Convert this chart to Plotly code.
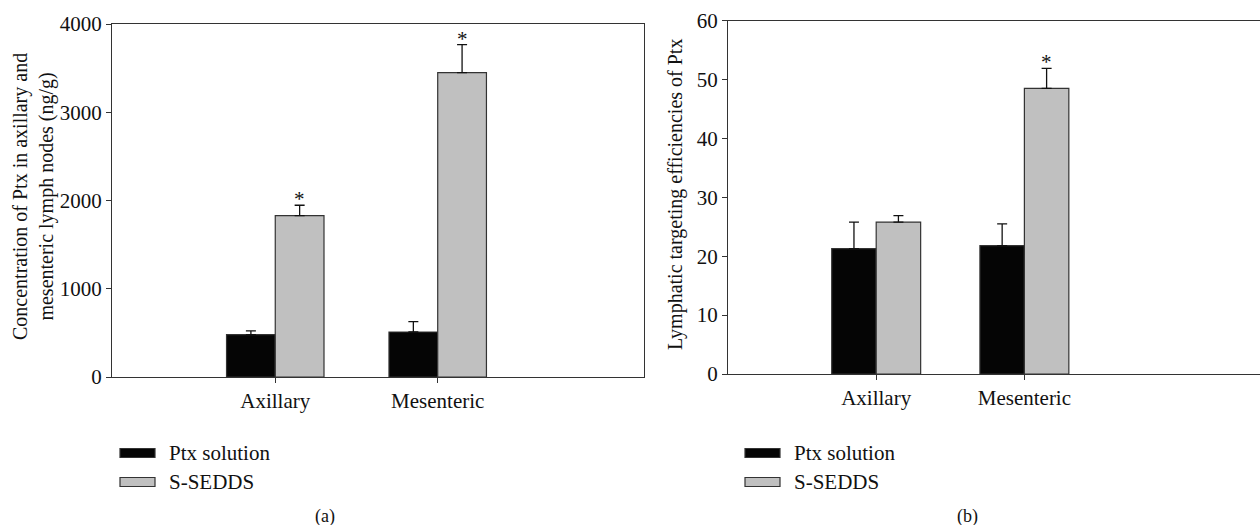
import plotly.graph_objects as go

categories = ["Axillary", "Mesenteric"]
series_names = ["Ptx solution", "S-SEDDS"]

# Panel (a): concentration (ng/g)
conc_ptx = [480, 510]
conc_ptx_err = [42, 117]
conc_sedds = [1828, 3448]
conc_sedds_err = [118, 318]
conc_sedds_star = [True, True]

# Panel (b): lymphatic targeting efficiency
lte_ptx = [21.3, 21.8]
lte_ptx_err = [4.5, 3.7]
lte_sedds = [25.8, 48.5]
lte_sedds_err = [1.1, 3.4]
lte_sedds_star = [False, True]

y_ticks_a = [0, 1000, 2000, 3000, 4000]
y_ticks_b = [0, 10, 20, 30, 40, 50, 60]

BLACK = "#050505"
GRAY = "#c0c0c0"
EDGE = "#333333"
FONT = "Liberation Serif, DejaVu Serif, serif"
FS = 21
FST = 20

fig = go.Figure()

def add_panel(xa, ya, v1, e1, v2, e2):
    for name, vals, errs, col in [(series_names[0], v1, e1, BLACK), (series_names[1], v2, e2, GRAY)]:
        fig.add_trace(go.Bar(
            x=categories, y=vals, name=name, xaxis=xa, yaxis=ya,
            marker=dict(color=col, line=dict(color=EDGE, width=1.2)),
            error_y=dict(type="data", array=errs, arrayminus=[0] * len(errs), symmetric=False,
                         color="#111111", thickness=1.3, width=5),
            showlegend=False, offsetgroup=name, hoverinfo="skip",
        ))

add_panel("x", "y", conc_ptx, conc_ptx_err, conc_sedds, conc_sedds_err)
add_panel("x2", "y2", lte_ptx, lte_ptx_err, lte_sedds, lte_sedds_err)

annotations = []
for i, c in enumerate(categories):
    if conc_sedds_star[i]:
        annotations.append(dict(x=i + 0.15, y=conc_sedds[i] + conc_sedds_err[i], xref="x", yref="y",
                                text="*", showarrow=False, xanchor="center", yanchor="bottom", yshift=-8,
                                font=dict(family=FONT, size=FS, color="#111")))
    if lte_sedds_star[i]:
        annotations.append(dict(x=i + 0.15, y=lte_sedds[i] + lte_sedds_err[i], xref="x2", yref="y2",
                                text="*", showarrow=False, xanchor="center", yanchor="bottom", yshift=-8,
                                font=dict(family=FONT, size=FS, color="#111")))

W, H = 1260, 525
def px(x):
    return x / W
def py(y):
    return 1 - y / H

# y-axis titles
annotations.append(dict(x=px(33), y=py(197), xref="paper", yref="paper", textangle=-90,
                        xanchor="center", yanchor="middle",
                        text="Concentration of Ptx in axillary and<br>mesenteric lymph nodes (ng/g)",
                        showarrow=False, font=dict(family=FONT, size=FST, color="#111")))
annotations.append(dict(x=px(675), y=py(195), xref="paper", yref="paper", textangle=-90,
                        xanchor="center", yanchor="middle",
                        text="Lymphatic targeting efficiencies of Ptx",
                        showarrow=False, font=dict(family=FONT, size=FST, color="#111")))

# custom legends
shapes = []
for lx in (120, 745):
    for j, (name, col) in enumerate([(series_names[0], BLACK), (series_names[1], GRAY)]):
        yc = 453 + j * 29
        shapes.append(dict(type="rect", xref="paper", yref="paper",
                           x0=px(lx), x1=px(lx + 35), y0=py(yc + 4.5), y1=py(yc - 4.5),
                           fillcolor=col, line=dict(color=EDGE, width=1.2)))
        annotations.append(dict(x=px(lx + 47), y=py(yc), xref="paper", yref="paper",
                                xanchor="left", yanchor="middle", text=name, showarrow=False,
                                font=dict(family=FONT, size=FS, color="#111")))

# panel captions
annotations.append(dict(x=px(325), y=py(516), xref="paper", yref="paper", text="(a)",
                        xanchor="center", yanchor="middle",
                        showarrow=False, font=dict(family=FONT, size=18, color="#111")))
annotations.append(dict(x=px(967), y=py(516), xref="paper", yref="paper", text="(b)",
                        xanchor="center", yanchor="middle",
                        showarrow=False, font=dict(family=FONT, size=18, color="#111")))

axis_common = dict(showgrid=False, zeroline=False, showline=True, linecolor=EDGE, linewidth=1.3,
                   ticks="outside", tickcolor=EDGE, ticklen=5, tickwidth=1.2, automargin=False,
                   tickfont=dict(family=FONT, size=FS, color="#111"))

fig.update_layout(
    width=W, height=H, margin=dict(l=0, r=0, t=0, b=0, autoexpand=False),
    plot_bgcolor="white", paper_bgcolor="white",
    barmode="group", bargap=0.4, bargroupgap=0,
    xaxis=dict(**axis_common, domain=[px(112), px(643.7)], anchor="y", type="category",
               range=[-1.005, 2.268], mirror=True),
    yaxis=dict(**axis_common, domain=[py(377), py(24)], anchor="x", range=[0, 4000],
               tickvals=y_ticks_a, mirror=True),
    xaxis2=dict(**axis_common, domain=[px(728), 1.0], anchor="y2", type="category",
                range=[-1.0, 2.59], mirror=True),
    yaxis2=dict(**axis_common, domain=[py(374), py(20.7)], anchor="x2", range=[0, 60],
                tickvals=y_ticks_b),
    annotations=annotations, shapes=shapes,
)

fig.write_html("out.html")
